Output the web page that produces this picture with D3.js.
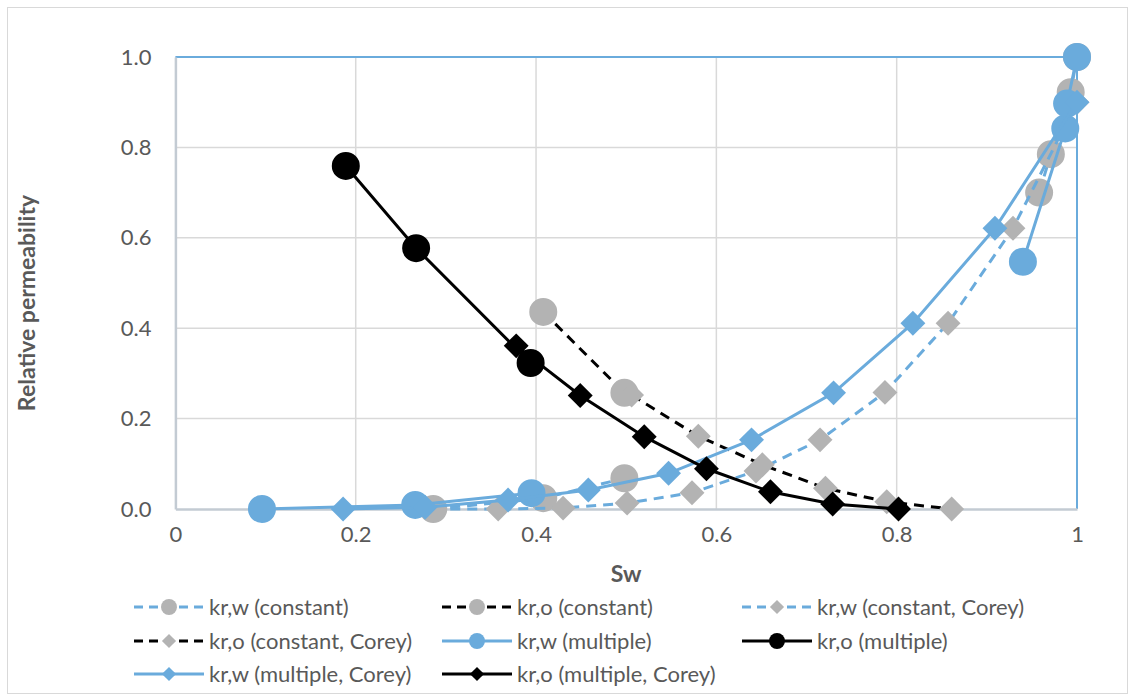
<!DOCTYPE html>
<html>
<head>
<meta charset="utf-8">
<script src="https://cdn.jsdelivr.net/npm/d3@7"></script>
<style>
  body { margin: 0; background: #fff; }
  text { font-family: Lato, "Open Sans", sans-serif; fill: #595959; }
</style>
</head>
<body>
<div id="chart"></div>
<script>
// tick labels
var xTicks = [0, 0.2, 0.4, 0.6, 0.8, 1];
var xTickLabels = ["0", "0.2", "0.4", "0.6", "0.8", "1"];
var yTicks = [0, 0.2, 0.4, 0.6, 0.8, 1];
var yTickLabels = ["0.0", "0.2", "0.4", "0.6", "0.8", "1.0"];

// series values (Sw, kr); null = gap in the line
var swKrwConst = [0.286, 0.408, 0.498, null, 0.958, 0.971, 0.993, 1.0];
var krwConst   = [0.0,   0.024, 0.068, null, 0.700, 0.785, 0.922, 1.0];

var swKroConst = [0.408, 0.498];
var kroConst   = [0.436, 0.257];

var swKrwConstCorey = [0.286, 0.358, 0.430, 0.501, 0.573, 0.644, 0.715, 0.787, 0.857, 0.929, 1.0];
var krwConstCorey   = [0.0,   0.0,   0.002, 0.013, 0.036, 0.084, 0.153, 0.258, 0.411, 0.621, 0.90];

var swKroConstCorey = [0.506, 0.580, 0.651, 0.721, 0.789, 0.861];
var kroConstCorey   = [0.252, 0.161, 0.098, 0.046, 0.016, 0.0];

var swKrwMult = [0.096, 0.266, 0.395, null, 0.940, 0.987, 0.989, 1.0];
var krwMult   = [0.0,   0.009, 0.035, null, 0.547, 0.842, 0.897, 1.0];

var swKroMult = [0.189, 0.267, 0.394];
var kroMult   = [0.759, 0.577, 0.323];

var swKrwMultCorey = [0.186, 0.277, 0.369, 0.458, 0.547, 0.639, 0.730, 0.818, 0.909, 1.0];
var krwMultCorey   = [0.0,   0.004, 0.020, 0.042, 0.079, 0.153, 0.257, 0.411, 0.621, 0.90];

var swKroMultCorey = [0.378, 0.449, 0.520, 0.589, 0.660, 0.729, 0.802];
var kroMultCorey   = [0.361, 0.251, 0.160, 0.089, 0.038, 0.011, 0.0];

var blue = "#6aabdc", gray = "#b3b3b3", black = "#000";

var series = [
    {name: "kr,w (constant)", sw: swKrwConst, kr: krwConst, line: blue, dash: true, shape: "circle", fill: gray},
    {name: "kr,o (constant)", sw: swKroConst, kr: kroConst, line: black, dash: true, shape: "circle", fill: gray},
    {name: "kr,w (constant, Corey)", sw: swKrwConstCorey, kr: krwConstCorey, line: blue, dash: true, shape: "diamond", fill: gray},
    {name: "kr,o (constant, Corey)", sw: swKroConstCorey, kr: kroConstCorey, line: black, dash: true, shape: "diamond", fill: gray},
    {name: "kr,w (multiple)", sw: swKrwMult, kr: krwMult, line: blue, dash: false, shape: "circle", fill: blue},
    {name: "kr,o (multiple)", sw: swKroMult, kr: kroMult, line: black, dash: false, shape: "circle", fill: black},
    {name: "kr,w (multiple, Corey)", sw: swKrwMultCorey, kr: krwMultCorey, line: blue, dash: false, shape: "diamond", fill: blue},
    {name: "kr,o (multiple, Corey)", sw: swKroMultCorey, kr: kroMultCorey, line: black, dash: false, shape: "diamond", fill: black}
];

var width = 1135, height = 700;
var svg = d3.select("#chart").append("svg")
    .attr("width", width)
    .attr("height", height);

// chart border
svg.append("rect")
    .attr("x", 7.5).attr("y", 7.5)
    .attr("width", 1120).attr("height", 686)
    .attr("fill", "#fff")
    .attr("stroke", "#d9d9d9");

var x = d3.scaleLinear().domain([0, 1]).range([175.4, 1077]);
var y = d3.scaleLinear().domain([0, 1]).range([509, 57]);

// gridlines
svg.append("g").selectAll("line")
    .data(yTicks.slice(1, -1))
    .enter().append("line")
    .attr("x1", x(0)).attr("x2", x(1))
    .attr("y1", function(d) { return y(d); })
    .attr("y2", function(d) { return y(d); })
    .attr("stroke", "#d9d9d9").attr("stroke-width", 1.5);
svg.append("g").selectAll("line")
    .data(xTicks.slice(1, -1))
    .enter().append("line")
    .attr("y1", y(0)).attr("y2", y(1))
    .attr("x1", function(d) { return x(d); })
    .attr("x2", function(d) { return x(d); })
    .attr("stroke", "#d9d9d9").attr("stroke-width", 1.5);

// top / right frame (blue), left / bottom axis lines (gray)
svg.append("line").attr("x1", x(0)).attr("x2", x(1)).attr("y1", y(1)).attr("y2", y(1))
    .attr("stroke", blue).attr("stroke-width", 2);
svg.append("line").attr("x1", x(1)).attr("x2", x(1)).attr("y1", y(1)).attr("y2", y(0))
    .attr("stroke", blue).attr("stroke-width", 2);

var xAxis = d3.axisBottom(x).tickValues(xTicks).tickSize(0).tickPadding(17)
    .tickFormat(function(d, i) { return xTickLabels[i]; });
var yAxis = d3.axisLeft(y).tickValues(yTicks).tickSize(0).tickPadding(24)
    .tickFormat(function(d, i) { return yTickLabels[i]; });

var gx = svg.append("g").attr("transform", "translate(0," + y(0) + ")").call(xAxis);
var gy = svg.append("g").attr("transform", "translate(" + x(0) + ",0)").call(yAxis);
[gx, gy].forEach(function(g) {
    g.select(".domain").attr("stroke", "#c3cbd3").attr("stroke-width", 2.5);
    g.selectAll("text").style("font-size", "22px").attr("fill", "#595959")
        .style("font-family", "Lato, 'Open Sans', sans-serif");
});

// axis titles
svg.append("text")
    .attr("x", (x(0) + x(1)) / 2).attr("y", 582)
    .attr("text-anchor", "middle")
    .style("font-size", "23px").style("font-weight", "bold")
    .text("Sw");
svg.append("text")
    .attr("transform", "translate(35,303) rotate(-90)")
    .attr("text-anchor", "middle")
    .style("font-size", "23px").style("font-weight", "bold")
    .text("Relative permeability");

function symbolPath(shape, big) {
    if (shape === "circle") return d3.symbol(d3.symbolCircle, big ? 616 : 200)();
    return d3.symbol(d3.symbolSquare, big ? 310 : 100)();
}
function symbolRot(shape) { return shape === "diamond" ? " rotate(45)" : ""; }

var line = d3.line()
    .defined(function(d) { return d[0] !== null && d[1] !== null; })
    .x(function(d) { return x(d[0]); })
    .y(function(d) { return y(d[1]); });

series.forEach(function(s) {
    var pts = s.sw.map(function(v, i) { return [v, s.kr[i]]; });
    var g = svg.append("g");
    g.append("path")
        .attr("d", line(pts))
        .attr("fill", "none")
        .attr("stroke", s.line)
        .attr("stroke-width", 3)
        .attr("stroke-dasharray", s.dash ? "10,7" : null);
    g.selectAll("path.m")
        .data(pts.filter(function(d) { return d[0] !== null; }))
        .enter().append("path")
        .attr("class", "m")
        .attr("d", symbolPath(s.shape, true))
        .attr("transform", function(d) { return "translate(" + x(d[0]) + "," + y(d[1]) + ")" + symbolRot(s.shape); })
        .attr("fill", s.fill);
});

// legend
var legCols = [134, 442, 742], legRows = [607, 641, 674];
var leg = svg.append("g");
series.forEach(function(s, i) {
    var cx = legCols[i % 3], cy = legRows[Math.floor(i / 3)];
    var item = leg.append("g").attr("transform", "translate(" + cx + "," + cy + ")");
    item.append("line")
        .attr("x1", 0).attr("x2", 70).attr("y1", 0).attr("y2", 0)
        .attr("stroke", s.line).attr("stroke-width", 3)
        .attr("stroke-dasharray", s.dash ? "9,6" : null);
    item.append("path")
        .attr("d", symbolPath(s.shape, false))
        .attr("transform", "translate(35,0)" + symbolRot(s.shape))
        .attr("fill", s.fill);
    item.append("text")
        .attr("x", 75).attr("y", 0).attr("dy", "0.35em")
        .style("font-size", "22px")
        .text(s.name);
});
</script>
</body>
</html>
